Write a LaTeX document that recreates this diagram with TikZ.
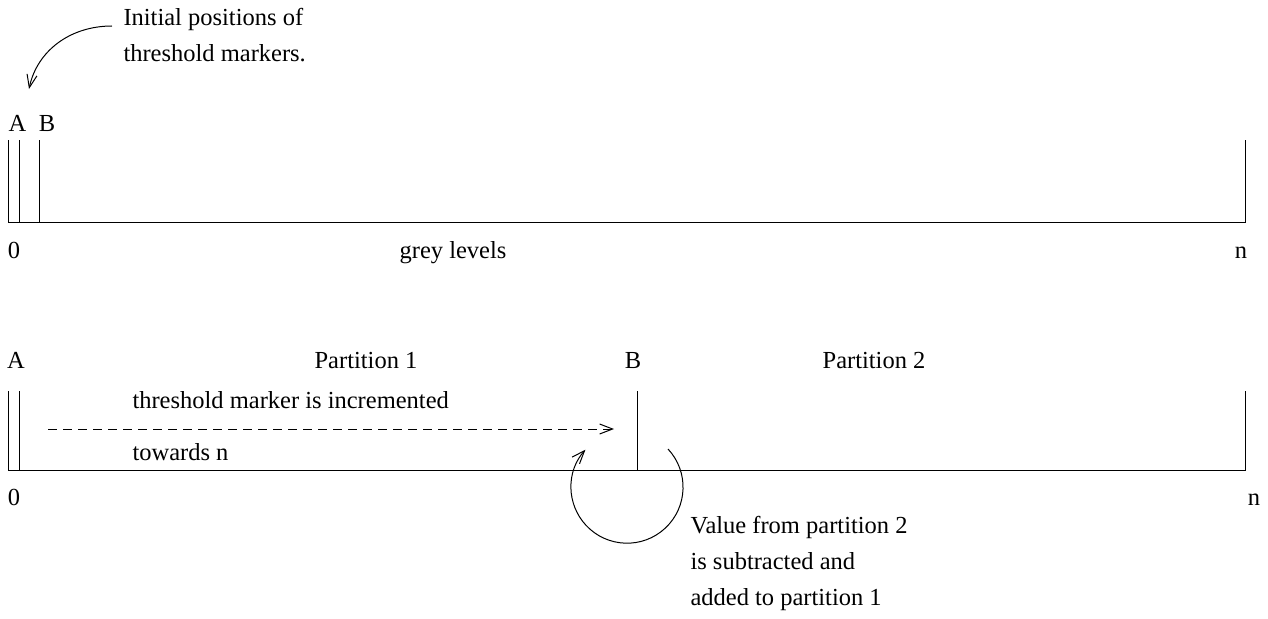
\documentclass[tikz,border=0pt]{standalone}
\usepackage{fontspec}
\setmainfont{Liberation Serif}
\usetikzlibrary{arrows.meta,positioning}
\tikzset{
  lbl/.style={anchor=base,inner sep=0pt,font=\fontsize{24.5}{36}\selectfont},
  note/.style={anchor=base west,align=left,inner sep=0pt,font=\fontsize{24.5}{36}\selectfont},
  barb/.style={-{Straight Barb[length=13pt,width=10pt,line width=1pt]}},
  pushed/.style={barb,dash pattern=on 9pt off 6pt}
}

\begin{document}
\begin{tikzpicture}[x=1pt,y=-1pt,line width=1pt]
  \useasboundingbox (0,0) rectangle (1268,618);
  % grey level scale, initial state
  \draw (8,140) -- (8,222) -- (1245,222) -- (1245,140);
  \draw (19,140) -- (19,222);
  \draw (39,140) -- (39,222);
  \node[lbl] (topA) at (17.5,131) {A};
  \node[lbl] (topB) at (47,131) {B};
  \node[lbl] (topzero) at (14,258) {0};
  \node[lbl] (grey) at (453,258) {grey levels};
  \node[lbl] (topn) at (1241,258) {n};
  % base of a two line note sits on its last line
  \node[note] (initnote) at (123,62) {Initial positions of\\threshold markers.};
  \coordinate (initfrom) at (112,26);
  \coordinate (initto) at (29,89);
  \draw[barb] (initfrom) .. controls (70,26) and (37,51) .. (initto);
  % grey level scale, after moving B
  \draw (8,391) -- (8,470) -- (1245,470) -- (1245,391);
  \draw (19,391) -- (19,470);
  \draw (637,391) -- (637,470);
  \node[lbl] (botA) at (16,368) {A};
  \node[lbl] (part1) at (366,368) {Partition 1};
  \node[lbl] (botB) at (633,368) {B};
  \node[lbl] (part2) at (874,368) {Partition 2};
  \node[lbl] (botzero) at (14,505) {0};
  \node[lbl] (botn) at (1254,505) {n};
  \node[note] (incnote) at (132,408) {threshold marker is incremented};
  \node[note] (towards) at (132,460) {towards n};
  \coordinate (movefrom) at (48,429);
  \coordinate (moveto) at (614,429);
  \draw[pushed] (movefrom) -- (moveto);
  % value moved across B
  \coordinate (loopfrom) at (668,449);
  \draw[barb] (loopfrom) arc[start angle=-43, end angle=222, radius=56];
  \node[note] (valnote) at (690,605) {Value from partition 2\\is subtracted and\\added to partition 1};
\end{tikzpicture}
\end{document}
